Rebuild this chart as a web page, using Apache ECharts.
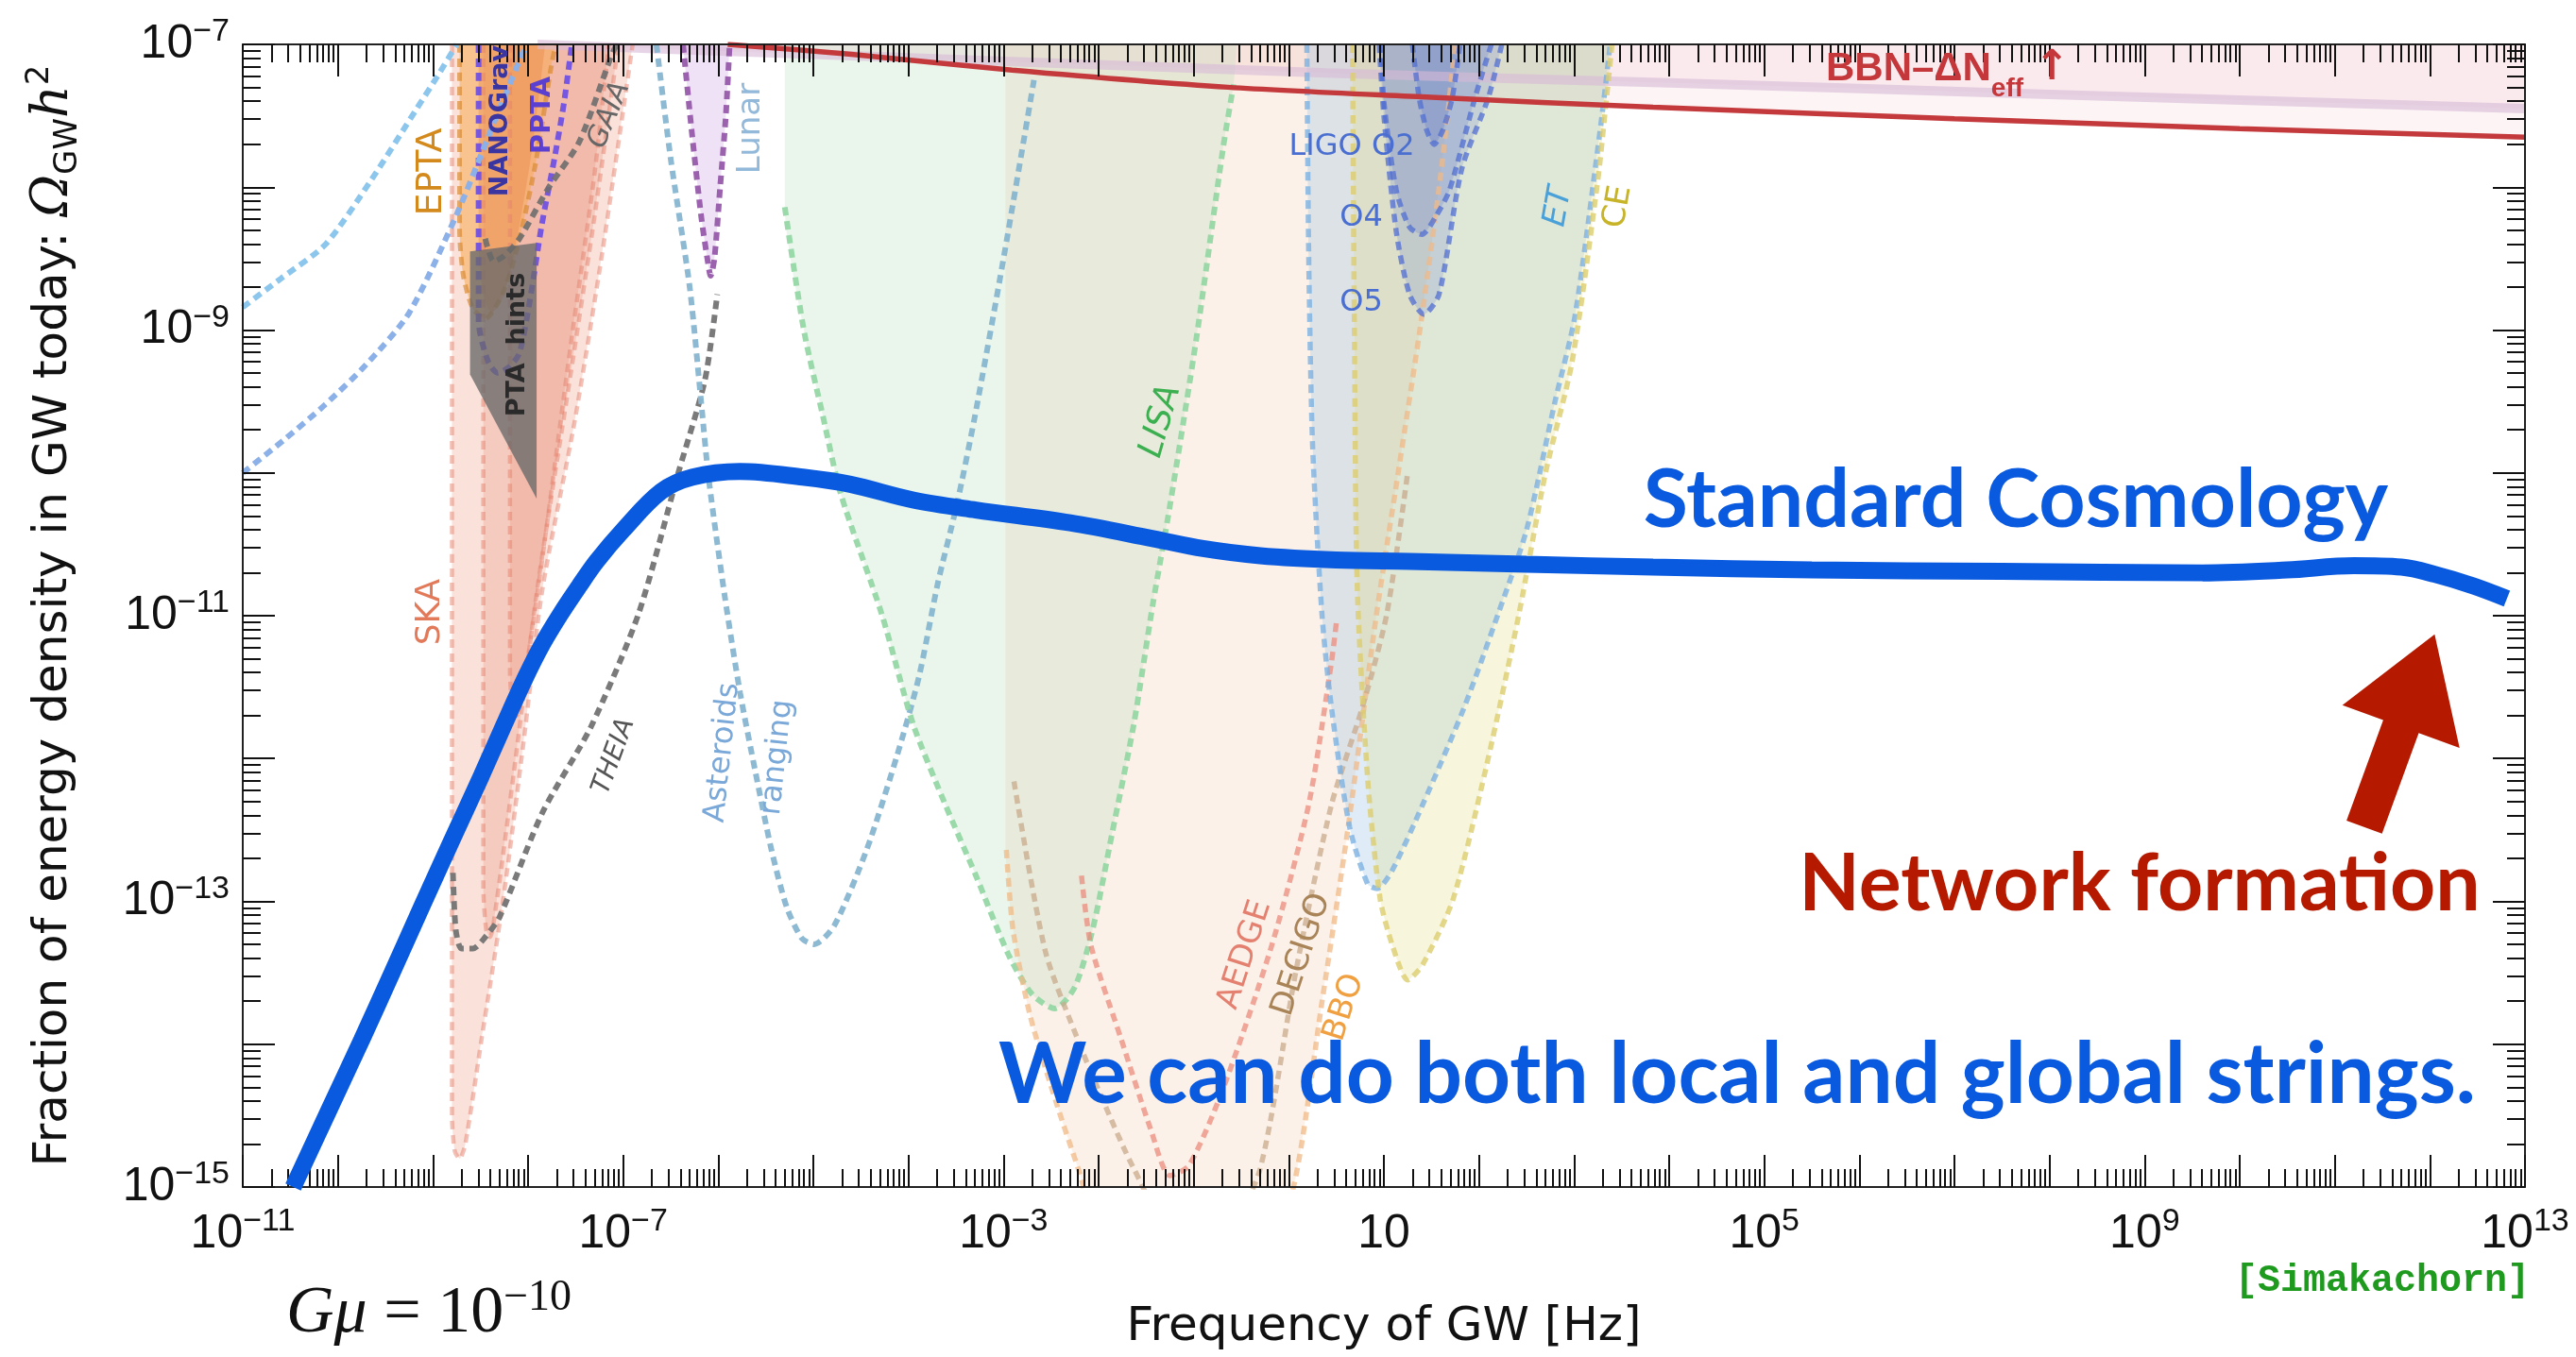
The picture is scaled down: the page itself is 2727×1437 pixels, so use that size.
<!DOCTYPE html>
<html><head><meta charset="utf-8">
<script src="https://cdn.jsdelivr.net/npm/echarts@6/dist/echarts.min.js"></script>
<style>html,body{margin:0;padding:0;background:#fff}#c{width:2727px;height:1437px}</style>
</head><body><div id="c"></div>
<script>
// All curve points are [log10(f / Hz), log10(Omega_GW h^2)].
const standardCosmology = [[-10.47,-15.0],[-10.1,-14.47],[-9.75,-13.97],[-9.43,-13.50],[-9.12,-13.04],[-8.80,-12.57],[-8.49,-12.12],[-8.25,-11.76],[-8.04,-11.45],[-7.85,-11.2],[-7.66,-10.99],[-7.47,-10.80],[-7.28,-10.62],[-7.0,-10.40],[-6.60,-10.13],[-6.27,-10.03],[-5.77,-9.99],[-5.11,-10.03],[-4.61,-10.08],[-3.95,-10.19],[-3.29,-10.26],[-2.30,-10.35],[-1.43,-10.46],[-0.9,-10.53],[-0.3,-10.58],[0.5,-10.61],[1.27,-10.62],[2.5,-10.64],[3.83,-10.66],[5.5,-10.68],[7.5,-10.69],[9.61,-10.70],[10.5,-10.68],[11.2,-10.65],[11.7,-10.66],[12.05,-10.71],[12.45,-10.79],[12.81,-10.88]];

const bbnLimit = [[-5.9,-7.0],[-4.6,-7.07],[-2.91,-7.18],[-0.64,-7.30],[1.5,-7.37],[3.83,-7.44],[7,-7.52],[10,-7.59],[13,-7.65]];
const topBand = [[-7.9,-7.0],[-5,-7.07],[0.4,-7.2],[4,-7.27],[8,-7.35],[13,-7.45]];

const pulsarDotA = [[-11,-8.84],[-10.6,-8.64],[-10.13,-8.40],[-9.65,-7.95],[-9.18,-7.46],[-8.95,-7.22],[-8.75,-7.0]];
const pulsarDotB = [[-11,-10.0],[-10.55,-9.76],[-10.13,-9.52],[-9.7,-9.24],[-9.25,-8.88],[-8.75,-8.19],[-8.36,-7.55],[-8.02,-7.0]];

const skaOuter = [[-8.80,-7.0],[-8.80,-14.5],[-8.77,-14.75],[-8.72,-14.8],[-8.66,-14.7],[-8.49,-13.97],[-8.26,-12.98],[-8.05,-11.9],[-7.85,-10.82],[-7.51,-9.64],[-7.22,-8.46],[-6.90,-7.0]];
const skaMid = [[-8.47,-7.0],[-8.47,-12.9],[-8.44,-13.2],[-8.40,-13.25],[-8.33,-13.0],[-8.15,-12.1],[-7.9,-10.8],[-7.55,-9.3],[-7.3,-8.2],[-7.05,-7.0]];
const skaInner = [[-8.19,-7.0],[-8.19,-11.4],[-8.16,-11.65],[-8.12,-11.7],[-8.05,-11.5],[-7.85,-10.6],[-7.55,-9.1],[-7.3,-7.9],[-7.15,-7.0]];

const epta = [[-8.72,-7.0],[-8.72,-8.3],[-8.68,-8.62],[-8.58,-8.85],[-8.45,-8.92],[-8.25,-8.72],[-8.09,-8.36],[-7.92,-7.83],[-7.76,-7.17],[-7.71,-7.0]];
const nanograv = [[-8.52,-7.0],[-8.52,-8.4],[-8.47,-8.75],[-8.38,-8.88],[-8.25,-8.75],[-8.1,-8.3],[-7.95,-7.7],[-7.82,-7.0]];
const ppta = [[-8.52,-7.0],[-8.52,-8.94],[-8.42,-9.22],[-8.32,-9.30],[-8.20,-9.26],[-8.09,-9.16],[-7.97,-8.75],[-7.86,-8.28],[-7.72,-7.79],[-7.62,-7.40],[-7.54,-7.0]];
const ptaHints = [[-8.61,-8.45],[-7.91,-8.39],[-7.91,-10.18],[-8.61,-9.31]];
const gaia = [[-8.45,-8.36],[-8.36,-8.52],[-8.25,-8.48],[-8.09,-8.36],[-7.79,-8.01],[-7.46,-7.68],[-7.13,-7.09],[-7.07,-7.0]];
const theia = [[-8.79,-12.8],[-8.76,-13.2],[-8.70,-13.33],[-8.58,-13.33],[-8.45,-13.25],[-8.30,-13.11],[-7.85,-12.38],[-7.34,-11.78],[-6.84,-10.99],[-6.42,-10.0],[-6.14,-9.35],[-6.01,-8.75]];
const lunar = [[-6.37,-7.0],[-6.28,-7.6],[-6.18,-8.2],[-6.11,-8.52],[-6.08,-8.62],[-6.04,-8.5],[-5.98,-8.0],[-5.92,-7.5],[-5.88,-7.0]];
const asteroids = [[-6.65,-7.0],[-6.5,-7.8],[-6.3,-8.7],[-6.18,-9.5],[-6.10,-10.04],[-5.93,-10.87],[-5.77,-11.54],[-5.61,-12.09],[-5.44,-12.64],[-5.28,-13.04],[-5.12,-13.26],[-4.99,-13.30],[-4.78,-13.17],[-4.44,-12.64],[-4.12,-11.98],[-3.89,-11.43],[-3.69,-10.77],[-3.49,-10.22],[-3.3,-9.6],[-3.0,-8.5],[-2.68,-7.25]];
const lisaFill = [[-5.30,-7.0],[-5.30,-8.14],[-5.1,-9.0],[-4.9,-9.6],[-4.71,-10.15],[-4.28,-10.99],[-3.95,-11.76],[-3.62,-12.31],[-3.29,-12.82],[-2.95,-13.37],[-2.7,-13.65],[-2.46,-13.75],[-2.25,-13.6],[-2.06,-13.19],[-1.86,-12.53],[-1.63,-11.76],[-1.43,-10.92],[-1.25,-10.23],[-0.97,-9.05],[-0.69,-7.72],[-0.58,-7.28],[-0.55,-7.0]];
const lisaCurve = [[-5.30,-8.14],[-5.1,-9.0],[-4.9,-9.6],[-4.71,-10.15],[-4.28,-10.99],[-3.95,-11.76],[-3.62,-12.31],[-3.29,-12.82],[-2.95,-13.37],[-2.7,-13.65],[-2.46,-13.75],[-2.25,-13.6],[-2.06,-13.19],[-1.86,-12.53],[-1.63,-11.76],[-1.43,-10.92],[-1.25,-10.23],[-0.97,-9.05],[-0.69,-7.72],[-0.58,-7.28]];
const bboFill = [[-2.98,-7.0],[-2.98,-12.61],[-2.90,-13.2],[-2.72,-13.8],[-2.45,-14.4],[-2.2,-14.9],[-2.0,-15.3],[-1.0,-15.8],[-0.2,-15.3],[0.05,-15.0],[0.35,-13.7],[0.62,-12.5],[0.92,-11.0],[1.15,-10.0],[1.4,-8.9],[1.6,-7.9],[1.75,-7.0]];
const bboCurve = [[-2.97,-12.64],[-2.90,-13.2],[-2.72,-13.8],[-2.45,-14.4],[-2.2,-14.9],[-2.0,-15.3],[-1.0,-15.8],[-0.2,-15.3],[0.05,-15.0],[0.35,-13.7],[0.62,-12.5],[0.92,-11.0],[1.15,-10.0],[1.4,-8.9],[1.6,-7.9],[1.75,-7.0]];
const decigo = [[-2.89,-12.16],[-2.56,-13.35],[-2.2,-14.0],[-1.95,-14.4],[-1.63,-14.87],[-1.3,-15.2],[-0.6,-15.2],[-0.30,-14.87],[0.08,-13.47],[0.45,-12.32],[0.77,-11.65],[1.03,-10.99],[1.25,-10.0]];
const aedge = [[-2.18,-12.82],[-2.08,-13.31],[-1.76,-13.97],[-1.45,-14.6],[-1.25,-14.92],[-1.05,-14.85],[-0.69,-14.31],[-0.18,-13.31],[0.21,-12.32],[0.45,-11.32],[0.5,-11.05]];
const et = [[0.19,-7.0],[0.21,-8.5],[0.25,-9.8],[0.35,-11.0],[0.45,-11.65],[0.64,-12.48],[0.83,-12.88],[0.93,-12.91],[1.09,-12.78],[1.41,-12.32],[1.84,-11.65],[2.2,-10.99],[2.5,-10.4],[2.8,-9.5],[3.01,-8.9],[3.28,-7.57],[3.38,-7.0]];
const ce = [[0.67,-7.0],[0.69,-9.0],[0.72,-10.8],[0.83,-12.15],[0.96,-12.98],[1.09,-13.31],[1.25,-13.55],[1.41,-13.44],[1.73,-12.98],[2.10,-11.99],[2.42,-10.99],[2.7,-10.0],[2.98,-9.22],[3.25,-7.95],[3.33,-7.45],[3.40,-7.0]];
const ligoO2 = [[1.30,-7.0],[1.37,-7.37],[1.45,-7.6],[1.53,-7.70],[1.62,-7.6],[1.72,-7.37],[1.80,-7.0]];
const ligoO4 = [[0.97,-7.0],[1.0,-7.4],[1.13,-8.02],[1.27,-8.28],[1.40,-8.33],[1.55,-8.2],[1.69,-8.02],[1.96,-7.37],[2.13,-7.0]];
const ligoO5 = [[0.95,-7.0],[1.0,-7.5],[1.13,-8.31],[1.27,-8.75],[1.42,-8.89],[1.58,-8.75],[1.82,-7.87],[2.10,-7.37],[2.24,-7.0]];

// arrow "Network formation": [tail log10 f, tail log10 Ω, tip log10 f, tip log10 Ω]
const networkArrow = [11.31,-12.48,12.05,-11.13];

// axis tick labels
const xTickLabels = [1e-11,1e-7,1e-3,1e1,1e5,1e9,1e13];
const yTickLabels = [1e-15,1e-13,1e-11,1e-9,1e-7];
const X_MIN = 1e-11, X_MAX = 1e13, Y_MIN = 1e-15, Y_MAX = 1e-7;

// ---------------------------------------------------------------
const P = a => a.map(p => [Math.pow(10, p[0]), Math.pow(10, p[1])]);
function majors(a, b) { const r = []; for (let n = a; n <= b; n++) r.push(Math.pow(10, n)); return r; }
function minors(a, b) { const r = []; for (let n = a; n < b; n++) for (let k = 2; k <= 9; k++) r.push(k * Math.pow(10, n)); return r; }

const LBL_FONT = 'Liberation Sans';
const tickRich = {
  b: { fontSize: 50, fontFamily: LBL_FONT, color: '#111', lineHeight: 60 },
  s: { fontSize: 34, fontFamily: LBL_FONT, color: '#111', lineHeight: 34, verticalAlign: 'top' }
};
function fmtPow(v) {
  const e = Math.round(Math.log10(v));
  if (e === 1) return '{b|10}';
  return '{b|10}{s|' + (e < 0 ? '\u2212' + (-e) : e) + '}';
}

function xAx(pos, ticks, len, labels, line) {
  return {
    type: 'log', logBase: 10, min: X_MIN, max: X_MAX, position: pos,
    axisLine: { show: line, onZero: false, lineStyle: { color: '#222', width: 2 } },
    axisTick: { show: true, inside: true, length: len, customValues: ticks, lineStyle: { color: '#111', width: 2 } },
    axisLabel: labels ? { show: true, customValues: xTickLabels, margin: 20, formatter: fmtPow, rich: tickRich } : { show: false },
    splitLine: { show: false }, minorTick: { show: false }, z: 6
  };
}
function yAx(pos, ticks, len, labels, line) {
  return {
    type: 'log', logBase: 10, min: Y_MIN, max: Y_MAX, position: pos,
    axisLine: { show: line, onZero: false, lineStyle: { color: '#222', width: 2 } },
    axisTick: { show: true, inside: true, length: len, customValues: ticks, lineStyle: { color: '#111', width: 2 } },
    axisLabel: labels ? { show: true, customValues: yTickLabels, margin: 14, formatter: fmtPow, rich: tickRich } : { show: false },
    splitLine: { show: false }, minorTick: { show: false }, z: 6
  };
}

const xA = [
  xAx('bottom', majors(-11, 13), 34, true, true),
  xAx('bottom', minors(-11, 13), 19, false, false),
  xAx('top', majors(-11, 13), 34, false, true),
  xAx('top', minors(-11, 13), 19, false, false)
];
Object.assign(xA[0], {
  name: 'Frequency of GW [Hz]', nameLocation: 'middle', nameGap: 124,
  nameTextStyle: { fontSize: 50, fontFamily: 'DejaVu Sans', color: '#111' }
});
const yA = [
  yAx('left', majors(-15, -7), 34, true, true),
  yAx('left', minors(-15, -7), 19, false, false),
  yAx('right', majors(-15, -7), 34, false, true),
  yAx('right', minors(-15, -7), 19, false, false)
];
Object.assign(yA[0], {
  name: 'Fraction of energy density in GW today: {o|\u03A9}{sub|GW}{h|h}{sup|2}',
  nameLocation: 'middle', nameGap: 168,
  nameTextStyle: {
    fontSize: 50, fontFamily: 'DejaVu Sans', color: '#111', lineHeight: 64,
    rich: {
      o: { fontSize: 54, fontFamily: 'DejaVu Serif', fontStyle: 'italic', color: '#111', lineHeight: 64 },
      sub: { fontSize: 34, fontFamily: 'DejaVu Sans', color: '#111', lineHeight: 40, verticalAlign: 'bottom' },
      h: { fontSize: 54, fontFamily: 'DejaVu Serif', fontStyle: 'italic', color: '#111', lineHeight: 64 },
      sup: { fontSize: 34, fontFamily: 'DejaVu Sans', color: '#111', lineHeight: 40, verticalAlign: 'top' }
    }
  }
});

const DASH = [9, 6];
function area(pts, fill, z) {
  return { type: 'line', data: P(pts), symbol: 'none', silent: true, smooth: 0.25,
    lineStyle: { width: 0, opacity: 0 }, areaStyle: { color: fill, origin: 'end', opacity: 1 }, z: z || 1 };
}
function dash(pts, color, width, z) {
  return { type: 'line', data: P(pts), symbol: 'none', silent: true, smooth: 0.25,
    lineStyle: { color: color, width: width || 5.5, type: DASH }, z: z || 3 };
}

const series = [
  // top band and BBN bound
  area(topBand, 'rgba(236,190,215,0.22)'),
  area(bbnLimit, 'rgba(248,215,215,0.25)'),
  { type: 'line', data: P(topBand), symbol: 'none', silent: true, smooth: 0.3, lineStyle: { color: 'rgba(215,185,215,0.6)', width: 10 }, z: 3 },
  { type: 'line', data: P(bbnLimit), symbol: 'none', silent: true, smooth: 0.3, lineStyle: { color: '#c43a3c', width: 5.5 }, z: 4 },
  // SKA
  area(skaOuter, 'rgba(236,150,125,0.28)'), area(skaMid, 'rgba(236,150,125,0.30)'), area(skaInner, 'rgba(236,150,125,0.30)'),
  dash(skaOuter, 'rgba(230,130,110,0.5)', 4.5), dash(skaMid, 'rgba(230,130,110,0.5)', 4.5), dash(skaInner, 'rgba(230,130,110,0.5)', 4.5),
  // PTAs
  area(epta, 'rgba(248,170,80,0.55)'), dash(epta, 'rgba(215,135,45,0.65)', 5),
  area(nanograv, 'rgba(232,135,70,0.40)'),
  dash(ppta, 'rgba(105,75,230,0.9)', 6),
  dash(pulsarDotA, 'rgba(140,198,236,1)', 6),
  dash(pulsarDotB, 'rgba(140,176,232,1)', 6),
  dash(gaia, 'rgba(110,110,110,0.9)', 6),
  dash(theia, 'rgba(115,115,115,0.95)', 6),
  area(lunar, 'rgba(215,180,232,0.40)'), dash(lunar, 'rgba(150,90,170,0.95)', 6),
  dash(asteroids, 'rgba(135,182,208,0.95)', 6),
  // space / mid band (BBO below LISA so the overlap stays greenish)
  area(bboFill, 'rgba(246,208,180,0.30)'),
  area(lisaFill, 'rgba(175,222,182,0.26)'),
  dash(lisaCurve, 'rgba(150,215,165,0.95)', 6),
  dash(bboCurve, 'rgba(240,185,135,0.75)', 5.5),
  dash(decigo, 'rgba(200,170,140,0.75)', 5.5),
  dash(aedge, 'rgba(235,140,125,0.75)', 5.5),
  // ground
  area(et, 'rgba(140,185,225,0.28)'), dash(et, 'rgba(125,178,225,0.8)', 5.5),
  area(ce, 'rgba(225,215,120,0.26)'), dash(ce, 'rgba(220,205,110,0.8)', 5.5),
  area(ligoO5, 'rgba(90,120,210,0.20)'), area(ligoO4, 'rgba(90,120,210,0.22)'), area(ligoO2, 'rgba(90,120,210,0.30)'),
  dash(ligoO5, 'rgba(80,110,210,0.75)', 5.5), dash(ligoO4, 'rgba(80,110,210,0.75)', 5.5), dash(ligoO2, 'rgba(80,110,210,0.75)', 5.5),
  // PTA hints polygon
  { type: 'custom', coordinateSystem: 'cartesian2d', data: [[1e-9, 1e-9]], silent: true, z: 5,
    renderItem: (params, api) => ({ type: 'polygon',
      shape: { points: P(ptaHints).map(p => api.coord(p)) },
      style: { fill: 'rgba(105,105,105,0.78)' } }) },
  // standard cosmology
  { type: 'line', data: P(standardCosmology), symbol: 'none', silent: true, smooth: 0.35,
    lineStyle: { color: '#0a5ae0', width: 18 }, z: 10 },
  // arrow
  { type: 'custom', coordinateSystem: 'cartesian2d', silent: true, z: 11,
    data: [[Math.pow(10, networkArrow[0]), Math.pow(10, networkArrow[1]), Math.pow(10, networkArrow[2]), Math.pow(10, networkArrow[3])]],
    renderItem: (params, api) => {
      const a = api.coord([api.value(0), api.value(1)]);
      const b = api.coord([api.value(2), api.value(3)]);
      const dx = b[0] - a[0], dy = b[1] - a[1], len = Math.hypot(dx, dy);
      const ux = dx / len, uy = dy / len, nx = -uy, ny = ux;
      const hw = 20, hh = 66, hl = 104;
      const bx = b[0] - ux * hl, by = b[1] - uy * hl;
      return { type: 'polygon', shape: { points: [
        [a[0] + nx * hw, a[1] + ny * hw], [bx + nx * hw, by + ny * hw], [bx + nx * hh, by + ny * hh], b,
        [bx - nx * hh, by - ny * hh], [bx - nx * hw, by - ny * hw], [a[0] - nx * hw, a[1] - ny * hw]] },
        style: { fill: '#b51a00' } };
    } }
];

// text annotations (layout only)
const SANS = 'DejaVu Sans';
const notes = [
  ['EPTA', 457, 182, 90, '#d4891c', 38, 'normal', 'normal'],
  ['NANOGrav', 530, 128, 90, '#3a35a0', 27, 'bold', 'normal'],
  ['PPTA', 574, 122, 90, '#5a3fd0', 29, 'bold', 'normal'],
  ['GAIA', 645, 122, 68, '#666666', 30, 'normal', 'italic'],
  ['Lunar', 795, 136, 90, '#92b8da', 34, 'normal', 'normal'],
  ['PTA  hints', 548, 365, 90, '#2a2a2a', 27, 'bold', 'normal'],
  ['SKA', 456, 648, 90, '#e27a5a', 36, 'normal', 'normal'],
  ['THEIA', 650, 801, 70, '#555555', 28, 'normal', 'italic'],
  ['Asteroids', 765, 797, 84, '#7aa8d8', 32, 'normal', 'normal'],
  ['ranging', 823, 802, 84, '#7aa8d8', 32, 'normal', 'normal'],
  ['LISA', 1229, 446, 74, '#3cb050', 36, 'normal', 'italic'],
  ['LIGO O2', 1431, 156, 0, '#4a6fd0', 32, 'normal', 'normal'],
  ['O4', 1441, 231, 0, '#4a6fd0', 32, 'normal', 'normal'],
  ['O5', 1441, 321, 0, '#4a6fd0', 32, 'normal', 'normal'],
  ['ET', 1650, 219, 80, '#4aa0d8', 34, 'normal', 'italic'],
  ['CE', 1713, 219, 80, '#c8b428', 34, 'normal', 'normal'],
  ['AEDGE', 1318, 1011, 72, '#e48070', 34, 'normal', 'normal'],
  ['DECIGO', 1378, 1011, 72, '#a88458', 34, 'normal', 'normal'],
  ['BBO', 1423, 1067, 72, '#f0a040', 34, 'normal', 'normal']
];
const graphic = notes.map(n => ({
  type: 'text', x: n[1], y: n[2], rotation: n[3] * Math.PI / 180, z: 50, silent: true,
  style: { text: n[0], fill: n[4], fontSize: n[5], fontWeight: n[6], fontStyle: n[7], fontFamily: SANS,
    align: 'center', verticalAlign: 'middle', textAlign: 'center', textVerticalAlign: 'middle' }
}));
const BIG = 'Lato';
graphic.push(
  { type: 'text', x: 2134, y: 530, z: 60, silent: true, style: { text: 'Standard Cosmology', fill: '#0a5ae0', fontSize: 86, fontWeight: 'bold', fontFamily: BIG, align: 'center', verticalAlign: 'middle', textAlign: 'center', textVerticalAlign: 'middle' } },
  { type: 'text', x: 1839, y: 1139, z: 60, silent: true, style: { text: 'We can do both local and global strings.', fill: '#0a5ae0', fontSize: 89, fontWeight: 'bold', fontFamily: BIG, align: 'center', verticalAlign: 'middle', textAlign: 'center', textVerticalAlign: 'middle' } },
  { type: 'text', x: 2265, y: 937, z: 60, silent: true, style: { text: 'Network formation', fill: '#b51a00', fontSize: 84, fontWeight: 'bold', fontFamily: BIG, align: 'center', verticalAlign: 'middle', textAlign: 'center', textVerticalAlign: 'middle' } },
  { type: 'text', x: 2522, y: 1357, z: 60, silent: true, style: { text: '[Simakachorn]', fill: '#1e9a1e', fontSize: 40, fontWeight: 'bold', fontFamily: 'Liberation Mono', align: 'center', verticalAlign: 'middle', textAlign: 'center', textVerticalAlign: 'middle' } },
  { type: 'text', x: 303, y: 1392, z: 60, silent: true, style: {
      text: '{g|G\u03BC}{n| = 10}{s|\u221210}', align: 'left', verticalAlign: 'middle', textAlign: 'left', textVerticalAlign: 'middle',
      rich: {
        g: { fontSize: 70, fontFamily: 'Liberation Serif', fontStyle: 'italic', fill: '#111', lineHeight: 80 },
        n: { fontSize: 70, fontFamily: 'Liberation Serif', fill: '#111', lineHeight: 80 },
        s: { fontSize: 46, fontFamily: 'Liberation Serif', fill: '#111', lineHeight: 46, verticalAlign: 'top' }
      } } },
  { type: 'text', x: 1933, y: 38, z: 60, silent: true, style: {
      text: '{m|BBN\u2013\u0394N}{e|eff}{m| }{a|\u2191}', align: 'left', verticalAlign: 'top', textAlign: 'left', textVerticalAlign: 'top',
      rich: {
        m: { fontSize: 42, fontFamily: 'Liberation Sans', fontWeight: 'bold', fill: '#c4373a', lineHeight: 70 },
        e: { fontSize: 28, fontFamily: 'Liberation Sans', fontWeight: 'bold', fill: '#c4373a', lineHeight: 30, verticalAlign: 'bottom' },
        a: { fontSize: 44, fontFamily: 'DejaVu Sans', fontWeight: 'bold', fill: '#c4373a', lineHeight: 70 }
      } } }
);

const chart = echarts.init(document.getElementById('c'), null, { renderer: 'canvas' });
chart.setOption({
  backgroundColor: '#ffffff',
  animation: false,
  grid: { left: 257, top: 47, right: 54, bottom: 180, containLabel: false },
  xAxis: xA,
  yAxis: yA,
  series: series.map(s => Object.assign({ xAxisIndex: 0, yAxisIndex: 0 }, s)),
  graphic: graphic
});
</script>
</body></html>
